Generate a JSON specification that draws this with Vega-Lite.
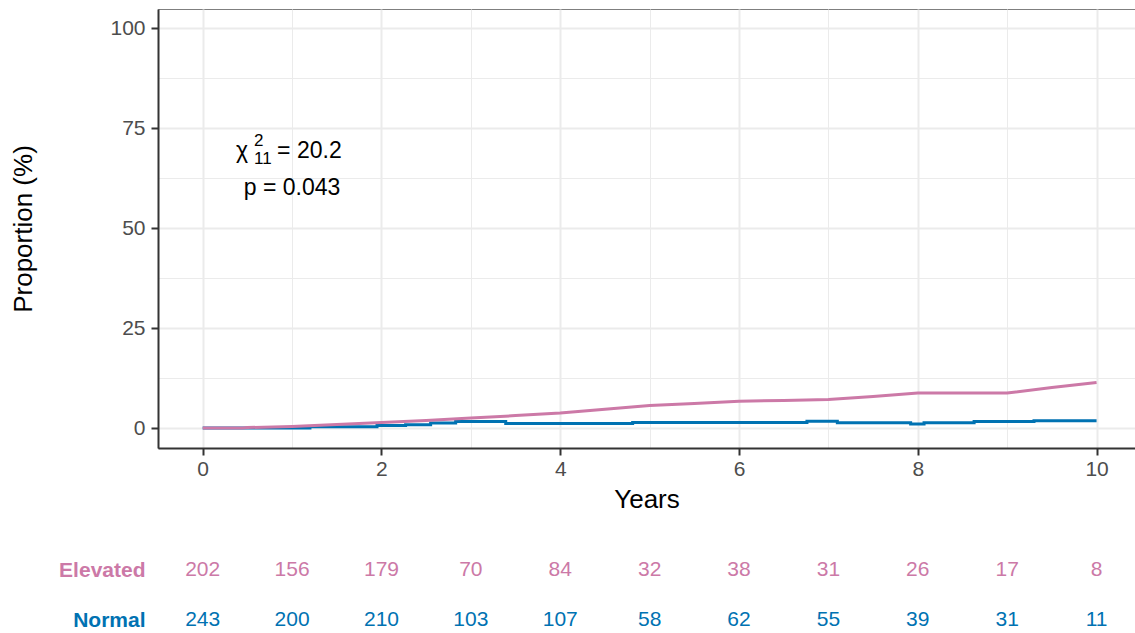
{
  "$schema": "https://vega.github.io/schema/vega-lite/v6.json",
  "padding": {"left": 10, "top": 8, "right": 0, "bottom": 0},
  "bounds": "flush",
  "spacing": 97,
  "background": "white",
  "datasets": {
    "curves": [
      {"group": "Normal", "year": 0, "pct": 0},
      {"group": "Normal", "year": 1.2, "pct": 0.33},
      {"group": "Normal", "year": 1.95, "pct": 0.6},
      {"group": "Normal", "year": 2.27, "pct": 0.8},
      {"group": "Normal", "year": 2.55, "pct": 1.25},
      {"group": "Normal", "year": 2.83, "pct": 1.6},
      {"group": "Normal", "year": 3.39, "pct": 1.1},
      {"group": "Normal", "year": 4.81, "pct": 1.35},
      {"group": "Normal", "year": 6.76, "pct": 1.7},
      {"group": "Normal", "year": 7.1, "pct": 1.3},
      {"group": "Normal", "year": 7.92, "pct": 1.0},
      {"group": "Normal", "year": 8.07, "pct": 1.3},
      {"group": "Normal", "year": 8.63, "pct": 1.6},
      {"group": "Normal", "year": 9.3, "pct": 1.8},
      {"group": "Normal", "year": 10, "pct": 1.8},
      {"group": "Elevated", "year": 0, "pct": 0},
      {"group": "Elevated", "year": 0.45, "pct": 0},
      {"group": "Elevated", "year": 0.5, "pct": 0.1},
      {"group": "Elevated", "year": 1, "pct": 0.4},
      {"group": "Elevated", "year": 1.5, "pct": 0.9},
      {"group": "Elevated", "year": 2, "pct": 1.4},
      {"group": "Elevated", "year": 2.5, "pct": 1.9},
      {"group": "Elevated", "year": 3, "pct": 2.5},
      {"group": "Elevated", "year": 3.5, "pct": 3.1},
      {"group": "Elevated", "year": 4, "pct": 3.75},
      {"group": "Elevated", "year": 4.5, "pct": 4.7},
      {"group": "Elevated", "year": 5, "pct": 5.6},
      {"group": "Elevated", "year": 5.5, "pct": 6.1},
      {"group": "Elevated", "year": 6, "pct": 6.7},
      {"group": "Elevated", "year": 6.5, "pct": 6.9},
      {"group": "Elevated", "year": 7, "pct": 7.1},
      {"group": "Elevated", "year": 7.5, "pct": 7.9},
      {"group": "Elevated", "year": 8, "pct": 8.75},
      {"group": "Elevated", "year": 9, "pct": 8.75},
      {"group": "Elevated", "year": 9.5, "pct": 10.1},
      {"group": "Elevated", "year": 10, "pct": 11.4}
    ],
    "risk": [
      {"group": "Elevated", "year": 0, "n": 202},
      {"group": "Elevated", "year": 1, "n": 156},
      {"group": "Elevated", "year": 2, "n": 179},
      {"group": "Elevated", "year": 3, "n": 70},
      {"group": "Elevated", "year": 4, "n": 84},
      {"group": "Elevated", "year": 5, "n": 32},
      {"group": "Elevated", "year": 6, "n": 38},
      {"group": "Elevated", "year": 7, "n": 31},
      {"group": "Elevated", "year": 8, "n": 26},
      {"group": "Elevated", "year": 9, "n": 17},
      {"group": "Elevated", "year": 10, "n": 8},
      {"group": "Normal", "year": 0, "n": 243},
      {"group": "Normal", "year": 1, "n": 200},
      {"group": "Normal", "year": 2, "n": 210},
      {"group": "Normal", "year": 3, "n": 103},
      {"group": "Normal", "year": 4, "n": 107},
      {"group": "Normal", "year": 5, "n": 58},
      {"group": "Normal", "year": 6, "n": 62},
      {"group": "Normal", "year": 7, "n": 55},
      {"group": "Normal", "year": 8, "n": 39},
      {"group": "Normal", "year": 9, "n": 31},
      {"group": "Normal", "year": 10, "n": 11}
    ]
  },
  "vconcat": [
    {
      "width": 977,
      "height": 439,
      "layer": [
        {
          "data": {"name": "curves"},
          "transform": [{"filter": "datum.group === 'Normal'"}],
          "mark": {"type": "line", "interpolate": "step-after", "strokeWidth": 3, "color": "#0072B2"},
          "encoding": {
            "x": {
              "field": "year",
              "type": "quantitative",
              "scale": {"domain": [-0.5, 10.43], "nice": false, "zero": false},
              "axis": {
                "title": "Years",
                "format": "d",
                "values": [0, 1, 2, 3, 4, 5, 6, 7, 8, 9, 10],
                "labelExpr": "datum.value % 2 == 0 ? datum.label : ''",
                "labelOverlap": false,
                "labelFlush": false,
                "gridWidth": {"condition": {"test": "datum.value % 2 != 0", "value": 1}, "value": 2},
                "tickOpacity": {"condition": {"test": "datum.value % 2 != 0", "value": 0}, "value": 1},
                "labelPadding": 3,
                "titlePadding": 7
              }
            },
            "y": {
              "field": "pct",
              "type": "quantitative",
              "scale": {"domain": [-5, 104.77], "nice": false, "zero": false},
              "axis": {
                "title": "Proportion (%)",
                "values": [0, 12.5, 25, 37.5, 50, 62.5, 75, 87.5, 100],
                "labelExpr": "datum.value % 25 == 0 ? datum.label : ''",
                "labelOverlap": false,
                "labelFlush": false,
                "gridWidth": {"condition": {"test": "datum.value % 25 != 0", "value": 1}, "value": 2},
                "tickOpacity": {"condition": {"test": "datum.value % 25 != 0", "value": 0}, "value": 1},
                "labelPadding": 6,
                "titlePadding": 73
              }
            }
          }
        },
        {
          "data": {"name": "curves"},
          "transform": [{"filter": "datum.group === 'Elevated'"}],
          "mark": {"type": "line", "strokeWidth": 3, "color": "#CC79A7"},
          "encoding": {
            "x": {"field": "year", "type": "quantitative"},
            "y": {"field": "pct", "type": "quantitative"}
          }
        },
        {
          "data": {"values": [{}]},
          "mark": {"type": "text", "fontSize": 23, "align": "center", "baseline": "alphabetic", "color": "black"},
          "encoding": {
            "x": {"datum": 1},
            "y": {"datum": 58.25},
            "text": {"value": "p = 0.043"}
          }
        },
        {
          "data": {"values": [{}]},
          "mark": {"type": "text", "fontSize": 23, "align": "left", "baseline": "alphabetic", "dx": -15, "color": "black"},
          "encoding": {
            "x": {"datum": 1},
            "y": {"datum": 67.5},
            "text": {"value": "= 20.2"}
          }
        },
        {
          "data": {"values": [{}]},
          "mark": {"type": "text", "fontSize": 23, "align": "left", "baseline": "alphabetic", "dx": -56, "color": "black"},
          "encoding": {
            "x": {"datum": 1},
            "y": {"datum": 67.5},
            "text": {"value": "χ"}
          }
        },
        {
          "data": {"values": [{}]},
          "mark": {"type": "text", "fontSize": 17, "align": "left", "baseline": "alphabetic", "dx": -38, "dy": -12, "color": "black"},
          "encoding": {
            "x": {"datum": 1},
            "y": {"datum": 67.5},
            "text": {"value": "2"}
          }
        },
        {
          "data": {"values": [{}]},
          "mark": {"type": "text", "fontSize": 17, "align": "left", "baseline": "alphabetic", "dx": -38, "dy": 6, "color": "black"},
          "encoding": {
            "x": {"datum": 1},
            "y": {"datum": 67.5},
            "text": {"value": "11"}
          }
        }
      ]
    },
    {
      "width": 977,
      "height": 100,
      "view": {"stroke": null},
      "data": {"name": "risk"},
      "mark": {"type": "text", "fontSize": 21},
      "encoding": {
        "x": {
          "field": "year",
          "type": "quantitative",
          "scale": {"domain": [-0.5, 10.43], "nice": false, "zero": false},
          "axis": null
        },
        "y": {
          "field": "group",
          "type": "nominal",
          "sort": ["Elevated", "Normal"],
          "axis": {
            "title": null,
            "domain": false,
            "ticks": false,
            "tickSize": 0,
            "grid": false,
            "labelFontSize": 21,
            "labelFontWeight": "bold",
            "labelPadding": 13,
            "labelColor": {"condition": {"test": "datum.value === 'Elevated'", "value": "#CC79A7"}, "value": "#0072B2"}
          }
        },
        "text": {"field": "n", "type": "quantitative"},
        "color": {
          "field": "group",
          "type": "nominal",
          "scale": {"domain": ["Elevated", "Normal"], "range": ["#CC79A7", "#0072B2"]},
          "legend": null
        }
      }
    }
  ],
  "config": {
    "font": "Liberation Sans",
    "view": {"stroke": "#7f7f7f", "strokeWidth": 1},
    "axis": {
      "domainColor": "#333333",
      "domainWidth": 2,
      "tickColor": "#333333",
      "tickWidth": 2,
      "tickSize": 7,
      "gridColor": "#EBEBEB",
      "labelColor": "#4D4D4D",
      "labelFontSize": 21,
      "titleFontSize": 26,
      "titleFontWeight": "normal",
      "titleColor": "black"
    }
  }
}
